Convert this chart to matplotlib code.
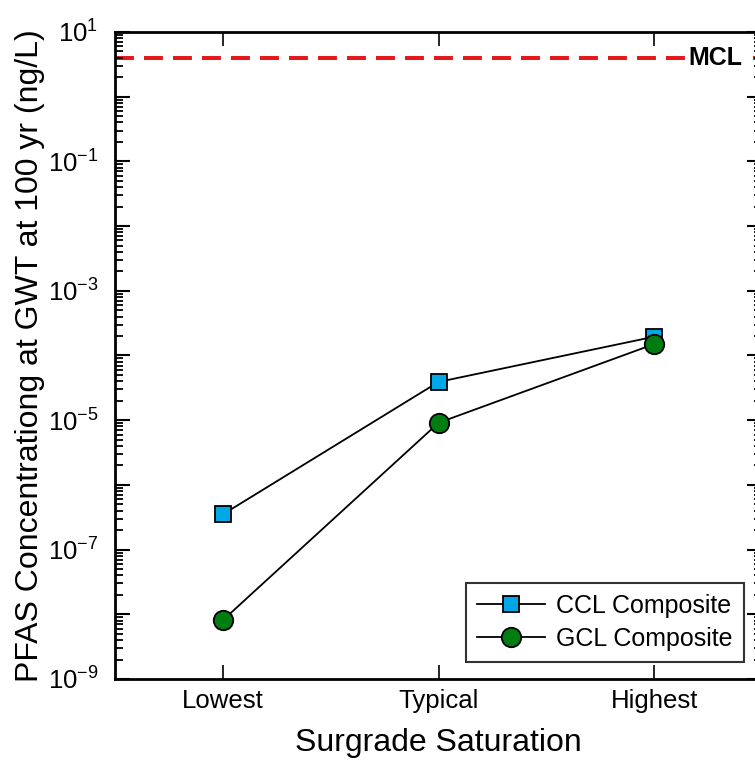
import numpy as np
import matplotlib
matplotlib.use("Agg")
import matplotlib.pyplot as plt
from matplotlib.ticker import LogLocator, FuncFormatter, NullFormatter

plt.rcParams['font.family'] = ['Liberation Sans', 'DejaVu Sans']
plt.rcParams['mathtext.default'] = 'regular'

# Data
saturation = ["Lowest", "Typical", "Highest"]
ccl_composite = [3.5e-7, 3.9e-5, 1.95e-4]
gcl_composite = [8.1e-9, 9.1e-6, 1.5e-4]
mcl_value = 4.0

fig = plt.figure(figsize=(7.55, 7.63), dpi=100)
ax = fig.add_axes([0.1523, 0.1101, 0.857, 0.848])

x = np.arange(len(saturation))

ax.axhline(mcl_value, color='#E31A1C', lw=2.9, ls=(0, (4.7, 2.5)), zorder=1)
ax.text(2.284, mcl_value, "MCL", transform=ax.transData,
        ha='center', va='center', fontsize=18, fontweight='bold',
        bbox=dict(facecolor='white', edgecolor='none', pad=2), zorder=2)

ax.plot(x, ccl_composite, color='black', lw=1.3, marker='s', markersize=11.5,
        markerfacecolor='#00A8E8', markeredgecolor='black', markeredgewidth=1.3,
        label='CCL Composite', zorder=3)
ax.plot(x, gcl_composite, color='black', lw=1.3, marker='o', markersize=14,
        markerfacecolor='#007D10', markeredgecolor='black', markeredgewidth=1.3,
        label='GCL Composite', zorder=4)

ax.set_yscale('log')
ax.set_ylim(1e-9, 1e1)
ax.set_xlim(-0.5, 2.5)

ax.set_xticks(x)
ax.set_xticklabels(saturation)

ax.yaxis.set_major_locator(LogLocator(base=10, numticks=20))
ax.yaxis.set_minor_locator(LogLocator(base=10, subs=np.arange(2, 10), numticks=100))


def odd_decades(v, pos):
    e = int(round(np.log10(v)))
    if e % 2 == 0:
        return ""
    return r"$10^{%d}$" % e


ax.yaxis.set_major_formatter(FuncFormatter(odd_decades))
ax.yaxis.set_minor_formatter(NullFormatter())

ax.tick_params(axis='both', which='major', direction='in', length=11, width=1.5,
               top=True, right=True, labelsize=18.5)
ax.tick_params(axis='y', which='major', pad=12)
ax.tick_params(axis='both', which='minor', direction='in', length=6, width=1.3,
               top=True, right=True)
ax.tick_params(axis='x', which='major', length=10, width=1.2, pad=7)

for s in ax.spines.values():
    s.set_linewidth(2)

ax.set_xlabel("Surgrade Saturation", fontsize=23, labelpad=11)
ax.set_ylabel("PFAS Concentrationg at GWT at 100 yr (ng/L)", fontsize=23, labelpad=2)

leg = ax.legend(loc='lower right', bbox_to_anchor=(0.972, 0.026), borderaxespad=0,
                fontsize=18, frameon=True, fancybox=False, edgecolor='black',
                handlelength=2.7, borderpad=0.45, labelspacing=0.35,
                handletextpad=0.45)
leg.get_frame().set_linewidth(1.5)

fig.savefig("out.png", dpi=100)
